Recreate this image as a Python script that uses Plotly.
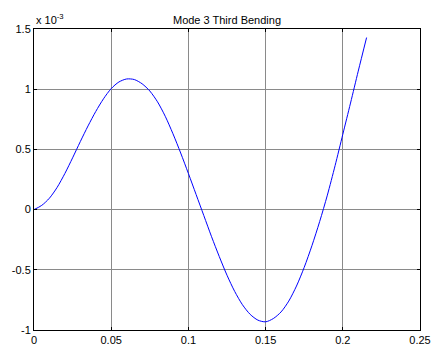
import plotly.graph_objects as go

# Mode shape samples (y in units of 1e-3)
x_vals = [0, 0.005, 0.010, 0.015, 0.020, 0.025, 0.030, 0.035, 0.040, 0.045,
          0.050, 0.055, 0.060, 0.065, 0.070, 0.075, 0.080, 0.085, 0.090, 0.095,
          0.100, 0.105, 0.110, 0.115, 0.120, 0.125, 0.130, 0.135, 0.140, 0.145,
          0.150, 0.155, 0.160, 0.165, 0.170, 0.175, 0.180, 0.185, 0.190, 0.195,
          0.200, 0.205, 0.210, 0.2154]
y_vals = [0, 0.035, 0.095, 0.185, 0.30, 0.43, 0.565, 0.695, 0.815, 0.92,
          1.005, 1.06, 1.085, 1.08, 1.045, 0.985, 0.895, 0.775, 0.63, 0.47,
          0.30, 0.125, -0.05, -0.225, -0.39, -0.545, -0.68, -0.79, -0.87, -0.918,
          -0.932, -0.905, -0.85, -0.76, -0.635, -0.48, -0.30, -0.10, 0.12, 0.365,
          0.625, 0.885, 1.15, 1.429]

x_ticks = [0, 0.05, 0.1, 0.15, 0.2, 0.25]
x_ticktext = ["0", "0.05", "0.1", "0.15", "0.2", "0.25"]
y_ticks = [-1, -0.5, 0, 0.5, 1, 1.5]
y_ticktext = ["-1", "-0.5", "0", "0.5", "1", "1.5"]

title_text = "Mode 3 Third Bending"
exponent_text = "x 10<sup>-3</sup>"

fig = go.Figure()
fig.add_trace(go.Scatter(x=x_vals, y=y_vals, mode="lines",
                         line=dict(color="#0000ff", width=1, shape="spline", smoothing=0.8),
                         showlegend=False, hoverinfo="skip"))

font = dict(family="Liberation Sans, Arial, sans-serif", size=11, color="#000000")
axis_common = dict(showline=True, linecolor="#000000", linewidth=1, mirror="ticks",
                   ticks="inside", ticklen=3, tickcolor="#000000", tickwidth=1,
                   showgrid=True, gridcolor="#8a8a8a", gridwidth=1,
                   zeroline=False, tickfont=font)

fig.update_xaxes(range=[0, 0.25], tickvals=x_ticks, ticktext=x_ticktext, **axis_common)
fig.update_yaxes(range=[-1, 1.5], tickvals=y_ticks, ticktext=y_ticktext, **axis_common)

fig.update_layout(
    width=443, height=358,
    margin=dict(l=33, r=13, t=29, b=17, pad=0),
    paper_bgcolor="#ffffff", plot_bgcolor="#ffffff",
    font=font,
    title=dict(text=title_text, x=0.5, xref="paper", xanchor="center",
               y=1, yref="paper", yanchor="bottom", pad=dict(b=5),
               font=dict(family="Liberation Sans, Arial, sans-serif", size=11, color="#000000")),
    annotations=[dict(text=exponent_text, xref="paper", yref="paper", x=0, y=1,
                      xanchor="left", yanchor="bottom", showarrow=False, yshift=1,
                      font=dict(family="Liberation Sans, Arial, sans-serif", size=11, color="#000000"))],
)

fig.write_html("out.html")
